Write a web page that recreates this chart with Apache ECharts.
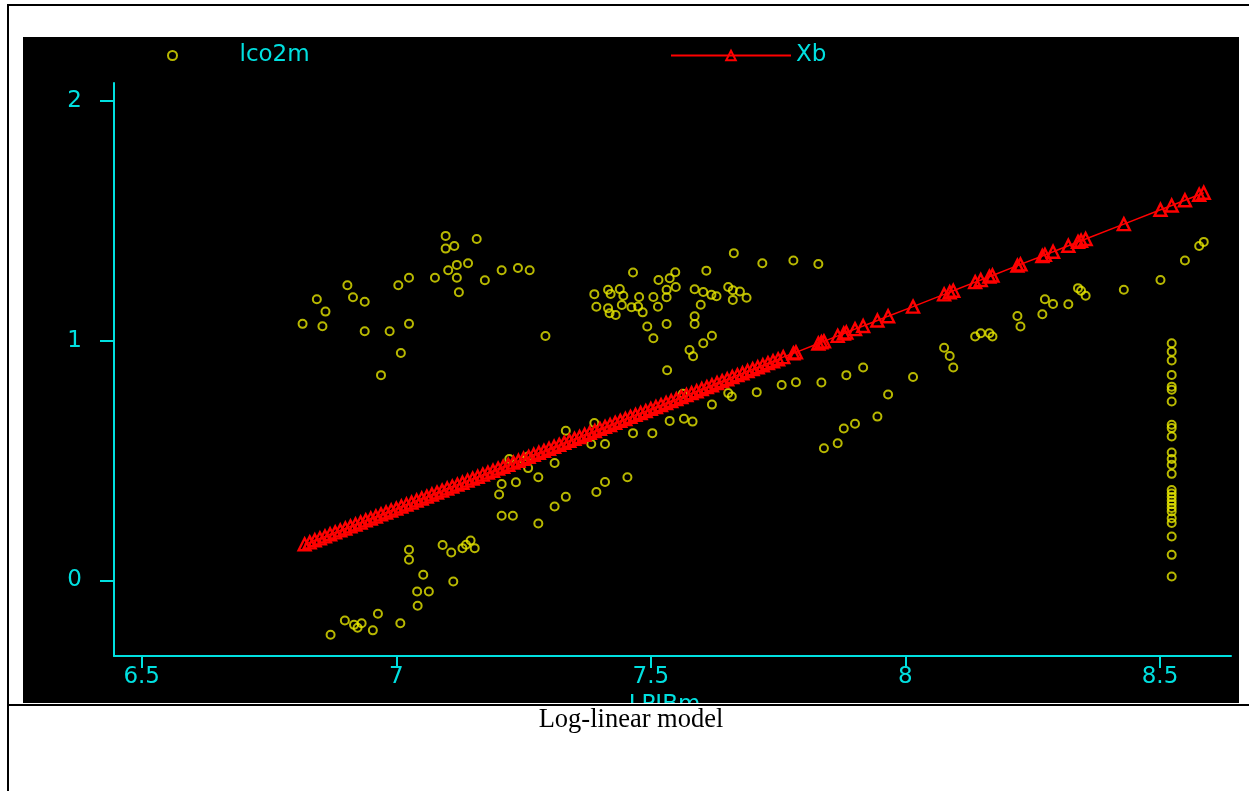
<!DOCTYPE html>
<html><head><meta charset="utf-8">
<script src="https://cdn.jsdelivr.net/npm/echarts@6/dist/echarts.min.js"></script>
<style>html,body{margin:0;padding:0;background:#fff;}#c{width:1249px;height:791px;}</style>
</head><body><div id="c"></div>
<script>
// lco2m observations (LPIBm, lco2m)
const lco2mX = [
6.816,6.844,6.861,6.855,6.904,6.915,6.938,6.938,6.970,6.987,7.009,7.025,7.004,7.025,7.076,7.097,7.097,7.114,7.158,7.119,7.141,7.102,7.119,7.123,7.174,7.207,7.239,7.262,7.293,
7.389,7.416,7.421,7.439,7.446,7.477,7.505,7.531,7.393,7.416,7.419,7.431,7.443,7.462,7.475,7.484,7.514,7.465,7.548,7.537,7.515,7.549,7.531,7.586,7.603,7.619,7.629,7.652,7.661,7.675,7.688,7.661,7.598,7.586,7.586,7.531,7.493,7.505,7.620,7.603,7.576,7.583,7.532,7.609,7.663,7.719,7.780,7.829,
7.563,7.652,7.659,7.708,7.757,7.785,7.835,7.884,7.917,8.015,7.966,7.945,7.901,7.879,7.867,7.840,8.076,8.087,8.094,8.137,8.148,8.165,8.171,8.220,8.226,8.274,8.290,8.269,8.320,8.339,8.345,8.354,8.429,8.501,8.549,8.577,8.586,
7.389,7.333,7.537,7.565,7.582,7.620,7.465,7.503,7.383,7.410,7.222,7.259,7.252,7.311,7.259,7.279,7.235,7.207,7.202,7.454,7.410,7.393,7.333,7.311,7.207,7.229,7.279,7.146,7.137,7.154,7.130,7.108,7.091,7.025,7.025,7.053,7.112,7.041,7.064,7.042,6.964,6.899,6.917,6.924,6.932,7.008,6.954,6.871,
8.523,8.523,8.523,8.523,8.523,8.523,8.523,8.523,8.523,8.523,8.523,8.523,8.523,8.523,8.523,8.523,8.523,8.523,8.523,8.523,8.523,8.523,8.523,8.523,8.523,8.523
];
const lco2mY = [
1.070,1.173,1.121,1.060,1.231,1.181,1.162,1.039,0.856,1.039,0.948,1.070,1.231,1.262,1.262,1.437,1.384,1.395,1.424,1.316,1.323,1.294,1.262,1.202,1.252,1.294,1.303,1.294,1.019,
1.194,1.212,1.195,1.215,1.187,1.182,1.182,1.181,1.141,1.135,1.114,1.107,1.149,1.139,1.142,1.118,1.141,1.284,1.285,1.260,1.253,1.224,1.212,1.214,1.203,1.191,1.185,1.224,1.210,1.205,1.179,1.170,1.150,1.102,1.069,1.069,1.059,1.010,1.020,0.989,0.961,0.935,0.876,1.292,1.365,1.323,1.334,1.320,
0.778,0.781,0.767,0.785,0.815,0.826,0.825,0.856,0.888,0.848,0.775,0.683,0.653,0.633,0.572,0.551,0.970,0.936,0.888,1.017,1.031,1.031,1.017,1.103,1.059,1.173,1.153,1.110,1.152,1.219,1.208,1.187,1.212,1.253,1.334,1.395,1.412,
0.656,0.624,0.665,0.674,0.662,0.733,0.614,0.614,0.569,0.569,0.506,0.516,0.500,0.489,0.468,0.430,0.409,0.402,0.358,0.430,0.410,0.368,0.348,0.308,0.269,0.269,0.237,0.166,0.148,0.134,0.134,0.116,0.147,0.127,0.086,0.023,-0.005,-0.047,-0.047,-0.106,-0.140,-0.168,-0.186,-0.198,-0.179,-0.179,-0.209,-0.227,
0.989,0.954,0.917,0.857,0.808,0.795,0.746,0.649,0.635,0.600,0.533,0.506,0.482,0.444,0.377,0.362,0.347,0.332,0.317,0.302,0.287,0.259,0.239,0.183,0.106,0.016
];
// Xb fitted values (LPIBm, Xb)
const xbX = [
6.82,6.83,6.84,6.85,6.86,6.87,6.88,6.89,6.90,6.91,6.92,6.93,6.94,6.95,6.96,6.97,6.98,6.99,7.00,7.01,7.02,7.03,7.04,7.05,7.06,7.07,7.08,7.09,7.10,7.11,7.12,7.13,7.14,7.15,7.16,7.17,7.18,7.19,7.20,7.21,7.22,7.23,7.24,7.25,7.26,7.27,7.28,7.29,7.30,7.31,7.32,7.33,7.34,7.35,7.36,7.37,7.38,7.39,7.40,7.41,7.42,7.43,7.44,7.45,7.46,7.47,7.48,7.49,7.50,7.51,7.52,7.53,7.54,7.55,7.56,7.57,7.58,7.59,7.60,7.61,7.62,7.63,7.64,7.65,7.66,7.67,7.68,7.69,7.70,7.71,7.72,7.73,7.74,7.75,7.76,
7.780,7.785,7.829,7.835,7.840,7.867,7.879,7.884,7.901,7.917,7.945,7.966,8.015,8.076,8.087,8.094,8.137,8.148,8.165,8.171,8.220,8.226,8.269,8.274,8.290,8.320,8.339,8.345,8.354,8.429,8.501,8.523,8.549,8.577,8.586
];
const xbY = [
0.150,0.158,0.167,0.175,0.183,0.192,0.200,0.208,0.216,0.225,0.233,0.241,0.250,0.258,0.266,0.275,0.283,0.291,0.299,0.308,0.316,0.324,0.333,0.341,0.349,0.358,0.366,0.374,0.383,0.391,0.399,0.407,0.416,0.424,0.432,0.441,0.449,0.457,0.466,0.474,0.482,0.491,0.499,0.507,0.515,0.524,0.532,0.540,0.549,0.557,0.565,0.574,0.582,0.590,0.598,0.607,0.615,0.623,0.632,0.640,0.648,0.657,0.665,0.673,0.682,0.690,0.698,0.706,0.715,0.723,0.731,0.740,0.748,0.756,0.765,0.773,0.781,0.789,0.798,0.806,0.814,0.823,0.831,0.839,0.848,0.856,0.864,0.873,0.881,0.889,0.897,0.906,0.914,0.922,0.931,
0.947,0.951,0.988,0.993,0.997,1.020,1.030,1.034,1.048,1.061,1.084,1.102,1.142,1.193,1.202,1.208,1.244,1.253,1.267,1.272,1.313,1.318,1.353,1.358,1.371,1.396,1.412,1.417,1.424,1.486,1.546,1.564,1.586,1.609,1.617
];
const xTicks = [6.5, 7, 7.5, 8, 8.5];
const yTicks = [0, 1, 2];

const CYAN = '#00e0e0';
const YEL = '#e6e600';
const RED = '#ff0000';
const FONT = 'DejaVu Sans';
const FS = 23;

const chart = echarts.init(document.getElementById('c'), null, {renderer: 'canvas'});
chart.setOption({
  backgroundColor: '#ffffff',
  animation: false,
  textStyle: {fontFamily: FONT},
  grid: {left: 114, top: 83, width: 1117, height: 573, outerBoundsMode: 'none', containLabel: false},
  legend: [
    {data: ['lco2m'], left: 167, top: 44, padding: 0, itemWidth: 124, itemHeight: 9,
     textStyle: {color: CYAN, fontSize: FS, fontFamily: FONT}, selectedMode: false},
    {data: ['Xb'], left: 670, top: 44, padding: 0, itemWidth: 120, itemHeight: 12,
     textStyle: {color: CYAN, fontSize: FS, fontFamily: FONT}, selectedMode: false}
  ],
  xAxis: {
    type: 'value', min: 6.4456, max: 8.6395,
    axisLine: {show: true, onZero: false, lineStyle: {color: CYAN, width: 2}},
    axisTick: {show: true, length: 12, customValues: xTicks, lineStyle: {color: CYAN, width: 2}},
    axisLabel: {color: CYAN, fontSize: FS, fontFamily: FONT, margin: 10, customValues: xTicks},
    splitLine: {show: false},
    name: 'LPIBm', nameLocation: 'middle', nameGap: 35,
    nameTextStyle: {color: CYAN, fontSize: FS, fontFamily: FONT, padding: [0, 16, 0, 0]}
  },
  yAxis: {
    type: 'value', min: -0.316, max: 2.075,
    axisLine: {show: true, onZero: false, lineStyle: {color: CYAN, width: 2}},
    axisTick: {show: true, length: 14, customValues: yTicks, lineStyle: {color: CYAN, width: 2}},
    axisLabel: {color: CYAN, fontSize: FS, fontFamily: FONT, margin: 32, customValues: yTicks},
    splitLine: {show: false}
  },
  graphic: [
    {type: 'rect', shape: {x: 23, y: 37, width: 1216, height: 666}, style: {fill: '#000'}, z: -10, silent: true},
    {type: 'rect', shape: {x: 0, y: 703, width: 1249, height: 88}, style: {fill: '#fff'}, z: 100, silent: true},
    {type: 'rect', shape: {x: 7, y: 4, width: 1242, height: 2}, style: {fill: '#000'}, z: 101, silent: true},
    {type: 'rect', shape: {x: 7, y: 4, width: 2, height: 787}, style: {fill: '#000'}, z: 101, silent: true},
    {type: 'rect', shape: {x: 7, y: 704, width: 1242, height: 2}, style: {fill: '#000'}, z: 101, silent: true},
    {type: 'text', x: 631, y: 720, z: 101, silent: true,
     style: {text: 'Log-linear model', fill: '#000', fontSize: 26.5, fontFamily: 'Liberation Serif', align: 'center', verticalAlign: 'middle'}}
  ],
  series: [
    {name: 'lco2m', type: 'scatter', z: 2,
     data: lco2mX.map((x, i) => [x, lco2mY[i]]),
     symbol: 'circle', symbolSize: 8,
     itemStyle: {color: 'rgba(0,0,0,0)', borderColor: YEL, borderWidth: 2},
     emphasis: {disabled: true}},
    {name: 'Xb', type: 'line', z: 3,
     data: xbX.map((x, i) => [x, xbY[i]]),
     symbol: 'triangle', symbolSize: 12, showSymbol: true, showAllSymbol: true,
     lineStyle: {color: RED, width: 1.5},
     itemStyle: {color: 'rgba(0,0,0,0)', borderColor: RED, borderWidth: 2.4},
     emphasis: {disabled: true}}
  ]
});
</script>
</body></html>
